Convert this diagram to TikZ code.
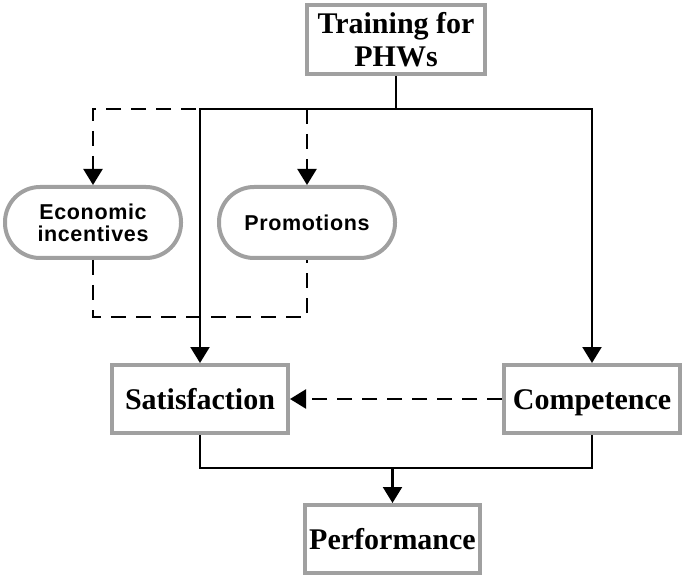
\documentclass[tikz,border=0pt]{standalone}
\usepackage{fontspec}
\setmainfont{Liberation Serif}
\newfontfamily\ovalfont[LetterSpace=3]{Liberation Sans}
\usetikzlibrary{arrows.meta}
\definecolor{boxgray}{HTML}{A0A0A0}
\tikzset{
  mainbox/.style={draw=boxgray, line width=4pt, fill=white, inner sep=0pt,
    minimum width=176pt, minimum height=68pt, align=center,
    font=\fontsize{30}{33}\selectfont\bfseries},
  oneline/.style={text height=20pt, text depth=0pt},
  ovalbox/.style={draw=boxgray, line width=4pt, fill=white, inner sep=0pt,
    rounded corners=35pt, minimum width=176pt, minimum height=71pt, align=center,
    font=\ovalfont\fontsize{21.5}{22}\selectfont\bfseries},
  conn/.style={line width=2.2pt, black},
  dconn/.style={line width=2.2pt, black, dash pattern=on 15pt off 10pt},
  tip/.style={-{Triangle[length=16pt,width=19pt]}}
}
\begin{document}
\begin{tikzpicture}[x=1pt,y=1pt]
\useasboundingbox (0,0) rectangle (685,579);
% nodes
\node[mainbox, minimum width=178pt, minimum height=69pt] (train) at (396,539.5) {Training for\\PHWs};
\node[ovalbox] (econ) at (93,356.5) {Economic\\incentives};
\node[ovalbox] (promo) at (307,356.5) {Promotions};
\node[mainbox, oneline] (sat) at (200,180) {Satisfaction};
\node[mainbox, oneline] (comp) at (592,180) {Competence};
\node[mainbox, oneline, minimum width=175pt] (perf) at (392.5,40) {Performance};
\coordinate (j) at (396,470);
\coordinate (b) at (392.5,111);
% dashed connectors
\draw[dconn, tip] (j) -| (econ.north);
\draw[dconn, tip] (promo.north |- j) -- (promo.north);
\draw[dconn] (econ.south) -- ++(0,-57) -| (promo.south);
\draw[dconn, tip] (comp.west) -- (sat.east);
% solid connectors
\draw[conn] (train.south) -- (j);
\draw[conn, tip] (j) -| (sat.north);
\draw[conn, tip] (j) -| (comp.north);
\draw[conn] (sat.south) |- (b) -| (comp.south);
\draw[conn, tip] (b) -- (perf.north);
\end{tikzpicture}
\end{document}
